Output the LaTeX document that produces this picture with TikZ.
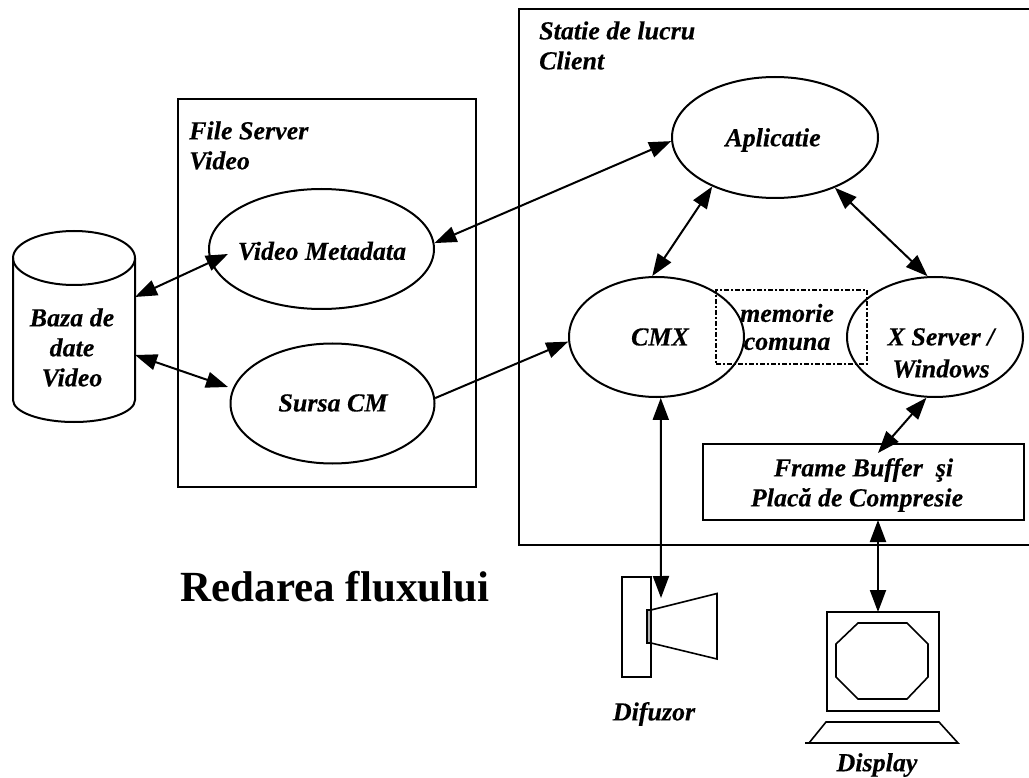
\documentclass[tikz,border=0pt]{standalone}
\usepackage{fontspec}
\setmainfont{Liberation Serif}
\newfontfamily\heavy[FakeBold=0.25,BoldItalicFont={Liberation Serif Bold Italic}]{Liberation Serif Bold Italic}
\usetikzlibrary{arrows.meta,shapes.geometric}
\tikzset{
  line/.style={line width=2pt,line join=miter},
  oval/.style={ellipse,draw,line width=2pt,inner sep=0pt,minimum width=#1},
  lab/.style={font=\fontsize{26}{30}\heavy,inner sep=0pt,align=center},
  labl/.style={lab,align=left,anchor=west},
  both/.style={line width=2pt,{Triangle[length=22pt,width=16pt]}-{Triangle[length=22pt,width=16pt]}},
  one/.style={line width=2pt,-{Triangle[length=22pt,width=16pt]}},
  dashbox/.style={draw,line width=1.6pt,dash pattern=on 5pt off 2pt on 2pt off 2pt},
}
\begin{document}
\begin{tikzpicture}[x=1pt,y=-1pt]
\useasboundingbox (0,0) rectangle (1029,778);
% boxes
\draw[line] (1029,9.5) -- (519,9.5) -- (519,545) -- (1029,545);
\node[draw,line width=2pt,minimum width=298pt,minimum height=388pt,inner sep=0pt] (fs) at (327,293) {};
% cylinder
\node[lab,minimum width=122pt,minimum height=142pt] (db) at (74,329) {};
\draw[line] (13,258) arc[start angle=180,end angle=-180,x radius=61,y radius=27];
\draw[line] (13,258) -- (13,400) arc[start angle=180,end angle=0,x radius=61,y radius=22] -- (135,258);
\node[lab] (dbt) at (72,347.5) {Baza de\\date\\Video};
% ellipses
\node[oval=206pt,minimum height=121pt] (app) at (775,137.5) {};
\node[oval=225pt,minimum height=120pt] (vm) at (321.5,249) {};
\node[oval=204pt,minimum height=120pt] (src) at (332.5,403.5) {};
\node[oval=175pt,minimum height=120pt] (cmx) at (656.5,337) {};
\node[oval=176pt,minimum height=120pt] (xs) at (935,337) {};
% shared memory
\node[dashbox,minimum width=151pt,minimum height=74pt,inner sep=0pt] (mem) at (791.5,327) {};
% texts
\node[labl] (tcl) at (539,45.5) {Statie de lucru\\Client};
\node[labl] (tfs) at (189,145.5) {File Server\\Video};
\node[lab] (tapp) at (773,140) {Aplicatie};
\node[lab] (tvm) at (322,251) {Video Metadata};
\node[lab] (tsrc) at (333,403) {Sursa CM};
\node[lab] (tcmx) at (660,337) {CMX};
\node[lab,font=\fontsize{26}{28}\heavy] (tmem) at (787,327) {memorie\\comuna};
\node[lab,font=\fontsize{26}{32}\heavy] (txs) at (941,353) {X Server /\\Windows};
% frame buffer
\node[draw,line width=2pt,minimum width=321pt,minimum height=76pt,inner sep=0pt] (fb) at (863.5,482) {};
\node[lab] (tfb) at (863.5,485) {Frame Buffer~~şi\\\hspace*{-13pt}Placă de Compresie};
% speaker
\node[draw,line width=1.6pt,minimum width=29pt,minimum height=100pt,inner sep=0pt] (spk) at (636.5,627) {};
\node[draw,line width=1.2pt,fill=black!30,minimum width=4pt,minimum height=33pt,inner sep=0pt] (mag) at (649,626.5) {};
\draw[line,line width=1.6pt] (651,610) -- (717,593.5) -- (717,659) -- (651,643);
\node[lab] (tspk) at (654,714) {Difuzor};
% monitor
\node[draw,line width=1.6pt,minimum width=112pt,minimum height=99pt,inner sep=0pt] (mon) at (883,661.5) {};
\draw[line,line width=1.6pt] (858,623) -- (907,623) -- (928,644) -- (928,677) -- (907,699) -- (858,699) -- (836,677) -- (836,644) -- cycle;
\draw[line,line width=1.6pt] (805,743) -- (958,743) -- (939,722) -- (826,722) -- (809,743);
\node[lab] (tmon) at (877,765) {Display};
\node[font=\fontsize{43}{48}\selectfont\bfseries,inner sep=0pt] (title) at (335,587) {Redarea fluxului};
% connector ends
\coordinate (dbA) at (135,297);
\coordinate (dbB) at (135,355);
\coordinate (vmL) at (228,254);
\coordinate (srcL) at (228,387);
\coordinate (fbT) at (878,453);
\coordinate (fbB) at (878,520);
\coordinate (monT) at (878,612);
\coordinate (spkT) at (661,598);
\draw[both] (dbA) -- (vmL);
\draw[both] (dbB) -- (srcL);
\draw[both] (vm.3) -- (app.182.5);
\draw[one] (src.3.7) -- (cmx.183);
\draw[both] (app.218.7) -- (cmx.94);
\draw[both] (app.320.8) -- (xs.97);
\draw[both] (xs.262.5) -- (fbT);
\draw[both] (cmx.274) -- (spkT);
\draw[both] (fbB) -- (monT);
\end{tikzpicture}
\end{document}
